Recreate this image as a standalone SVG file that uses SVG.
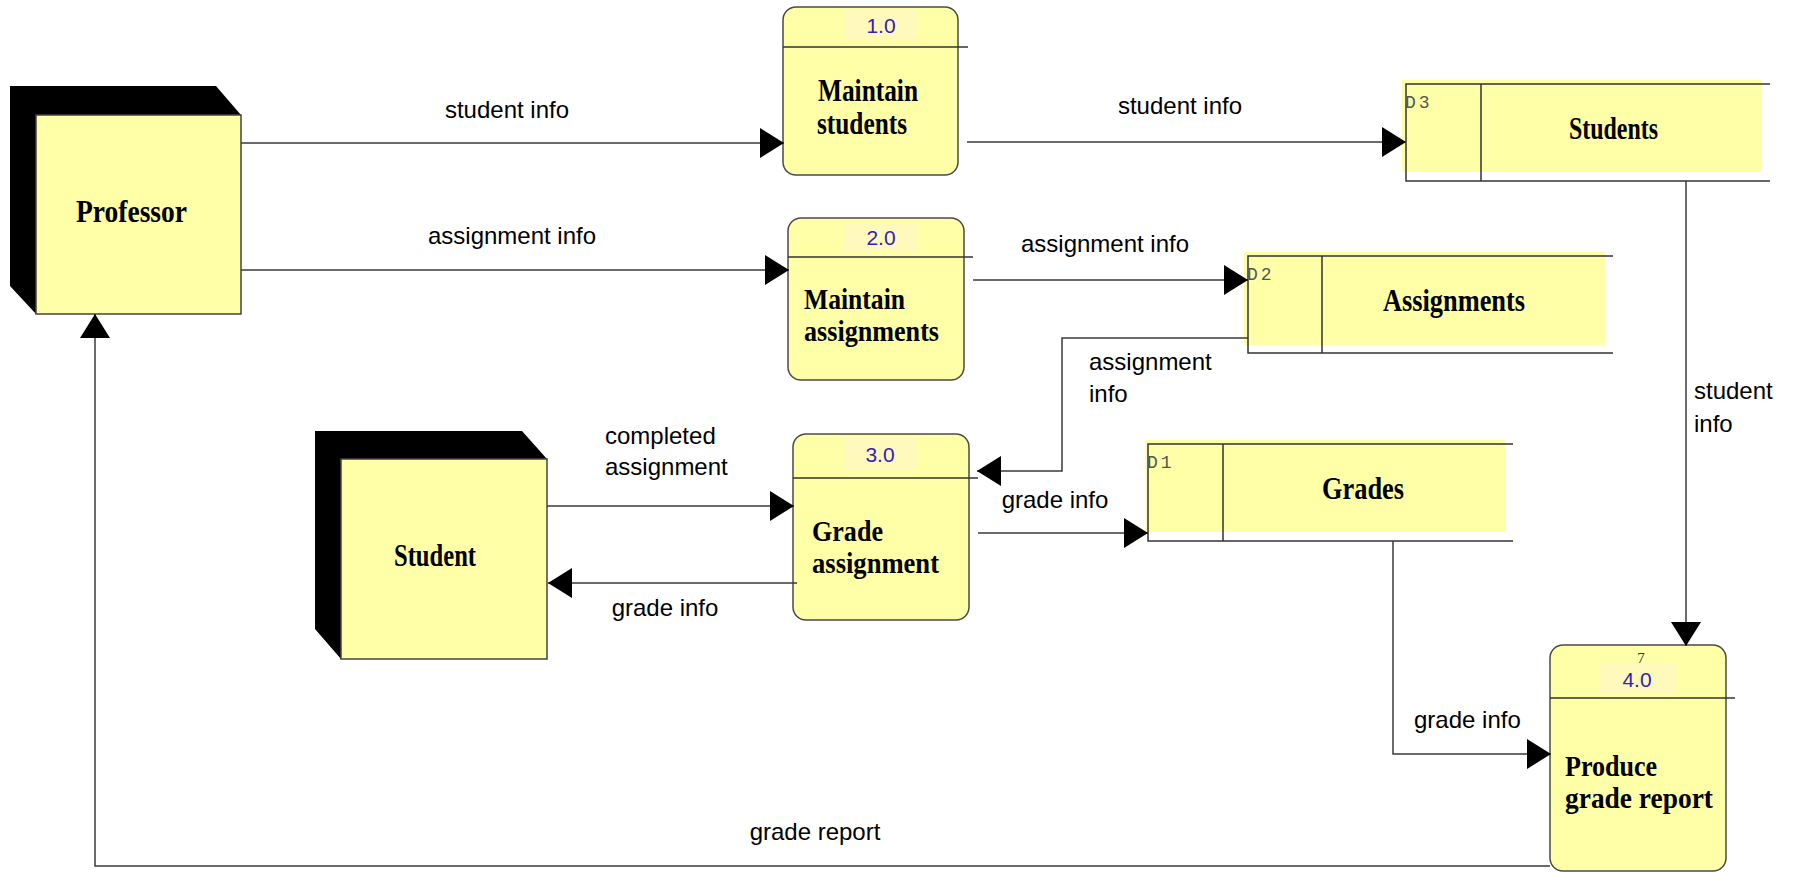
<svg xmlns="http://www.w3.org/2000/svg" width="1794" height="872" viewBox="0 0 1794 872">
  <style>
    .bg { fill: #ffffff; }
    .face { fill: #ffffa8; stroke: #444444; stroke-width: 1.5; }
    .shade { fill: #000000; }
    .proc { fill: #ffffa8; stroke: #4a4a4a; stroke-width: 1.5; }
    .tag { fill: #fff9bc; }
    .rule { stroke: #333333; stroke-width: 1.5; fill: none; }
    .store { fill: #ffffa8; }
    .flow { stroke: #3a3a3a; stroke-width: 1.5; fill: none; marker-end: url(#arrow); }
    .title { font-family: "Liberation Serif", "Times New Roman", serif; font-weight: bold; font-size: 32px; fill: #000000; }
    .tight { font-size: 30px; }
    .num { font-family: "Liberation Sans", Arial, sans-serif; font-size: 21px; fill: #3322bb; text-anchor: middle; }
    .code { font-family: "Liberation Mono", "Courier New", monospace; font-size: 18px; fill: #555555; letter-spacing: 3px; }
    .lbl { font-family: "Liberation Sans", Arial, sans-serif; font-size: 24px; fill: #000000; }
    .mid { text-anchor: middle; }
  </style>
  <defs>
    <marker id="arrow" markerUnits="userSpaceOnUse" markerWidth="24" markerHeight="30" refX="24" refY="15" orient="auto">
      <path d="M0,0 L24,15 L0,30 Z" fill="#000000"/>
    </marker>
  </defs>

  <rect class="bg" x="0" y="0" width="1794" height="872"/>

  <!-- external entities -->
  <g id="professor">
    <polygon class="shade" points="10,86 216,86 241,115 36,115 36,314 10,286"/>
    <rect class="face" x="36" y="115" width="205" height="199"/>
    <text class="title" x="76" y="222" textLength="111" lengthAdjust="spacingAndGlyphs">Professor</text>
  </g>

  <g id="student">
    <polygon class="shade" points="315,431 522,431 547,459 341,459 341,659 315,629"/>
    <rect class="face" x="341" y="459" width="206" height="200"/>
    <text class="title" x="394" y="566" textLength="82" lengthAdjust="spacingAndGlyphs">Student</text>
  </g>

  <!-- processes -->
  <g id="p1">
    <rect class="proc" x="783" y="7" width="175" height="168" rx="13"/>
    <rect class="tag" x="843" y="9" width="75" height="31"/>
    <text class="num" x="881" y="33">1.0</text>
    <line class="rule" x1="783" y1="47" x2="968" y2="47"/>
    <text class="title" x="818" y="101" textLength="100" lengthAdjust="spacingAndGlyphs">Maintain</text>
    <text class="title" x="817" y="134" textLength="90" lengthAdjust="spacingAndGlyphs">students</text>
  </g>

  <g id="p2">
    <rect class="proc" x="788" y="218" width="176" height="162" rx="13"/>
    <rect class="tag" x="843" y="223" width="75" height="29"/>
    <text class="num" x="881" y="245">2.0</text>
    <line class="rule" x1="788" y1="257" x2="973" y2="257"/>
    <text class="title tight" x="804" y="309" textLength="101" lengthAdjust="spacingAndGlyphs">Maintain</text>
    <text class="title tight" x="804" y="341" textLength="135" lengthAdjust="spacingAndGlyphs">assignments</text>
  </g>

  <g id="p3">
    <rect class="proc" x="793" y="434" width="176" height="186" rx="13"/>
    <rect class="tag" x="843" y="438" width="75" height="31"/>
    <text class="num" x="880" y="462">3.0</text>
    <line class="rule" x1="793" y1="478" x2="978" y2="478"/>
    <text class="title tight" x="812" y="541" textLength="71" lengthAdjust="spacingAndGlyphs">Grade</text>
    <text class="title tight" x="812" y="573" textLength="127" lengthAdjust="spacingAndGlyphs">assignment</text>
  </g>

  <g id="p4">
    <rect class="proc" x="1550" y="645" width="176" height="226" rx="13"/>
    <rect class="tag" x="1599" y="663" width="76" height="30"/>
    <text x="1641" y="663" font-family="Liberation Serif, serif" font-size="15" fill="#333333" text-anchor="middle">7</text>
    <text class="num" x="1637" y="687">4.0</text>
    <line class="rule" x1="1550" y1="698" x2="1735" y2="698"/>
    <text class="title tight" x="1565" y="776" textLength="92" lengthAdjust="spacingAndGlyphs">Produce</text>
    <text class="title tight" x="1565" y="808" textLength="148" lengthAdjust="spacingAndGlyphs">grade report</text>
  </g>

  <!-- data stores -->
  <g id="d3">
    <rect class="store" x="1402" y="80" width="360" height="92"/>
    <path class="rule" d="M1770,84 H1406 V181 H1770 M1481,84 V181"/>
    <text class="code" x="1405" y="108">D3</text>
    <text class="title" x="1569" y="139" textLength="89" lengthAdjust="spacingAndGlyphs">Students</text>
  </g>

  <g id="d2">
    <rect class="store" x="1244" y="252" width="361" height="93"/>
    <path class="rule" d="M1613,256 H1248 V353 H1613 M1322,256 V353"/>
    <text class="code" x="1247" y="280">D2</text>
    <text class="title" x="1383" y="311" textLength="142" lengthAdjust="spacingAndGlyphs">Assignments</text>
  </g>

  <g id="d1">
    <rect class="store" x="1145" y="440" width="360" height="92"/>
    <path class="rule" d="M1513,444 H1148 V541 H1513 M1223,444 V541"/>
    <text class="code" x="1147" y="468">D1</text>
    <text class="title" x="1322" y="499" textLength="82" lengthAdjust="spacingAndGlyphs">Grades</text>
  </g>

  <!-- data flows -->
  <g id="flows">
    <path class="flow" d="M241,143 H784"/>
    <path class="flow" d="M241,270 H789"/>
    <path class="flow" d="M967,142 H1406"/>
    <path class="flow" d="M973,280 H1248"/>
    <path class="flow" d="M1248,338 H1062 V471 H977"/>
    <path class="flow" d="M547,506 H794"/>
    <path class="flow" d="M797,583 H548"/>
    <path class="flow" d="M978,533 H1148"/>
    <path class="flow" d="M1393,541 V754 H1551"/>
    <path class="flow" d="M1686,181 V646"/>
    <path class="flow" d="M1550,866 H95 V314"/>
  </g>

  <g id="flow-labels">
    <text class="lbl mid" x="507" y="118">student info</text>
    <text class="lbl mid" x="512" y="244">assignment info</text>
    <text class="lbl mid" x="1180" y="114">student info</text>
    <text class="lbl mid" x="1105" y="252">assignment info</text>
    <text class="lbl" x="1089" y="370">assignment</text>
    <text class="lbl" x="1089" y="402">info</text>
    <text class="lbl" x="605" y="444">completed</text>
    <text class="lbl" x="605" y="475">assignment</text>
    <text class="lbl mid" x="665" y="616">grade info</text>
    <text class="lbl mid" x="1055" y="508">grade info</text>
    <text class="lbl" x="1414" y="728">grade info</text>
    <text class="lbl" x="1694" y="399">student</text>
    <text class="lbl" x="1694" y="432">info</text>
    <text class="lbl mid" x="815" y="840">grade report</text>
  </g>
</svg>
